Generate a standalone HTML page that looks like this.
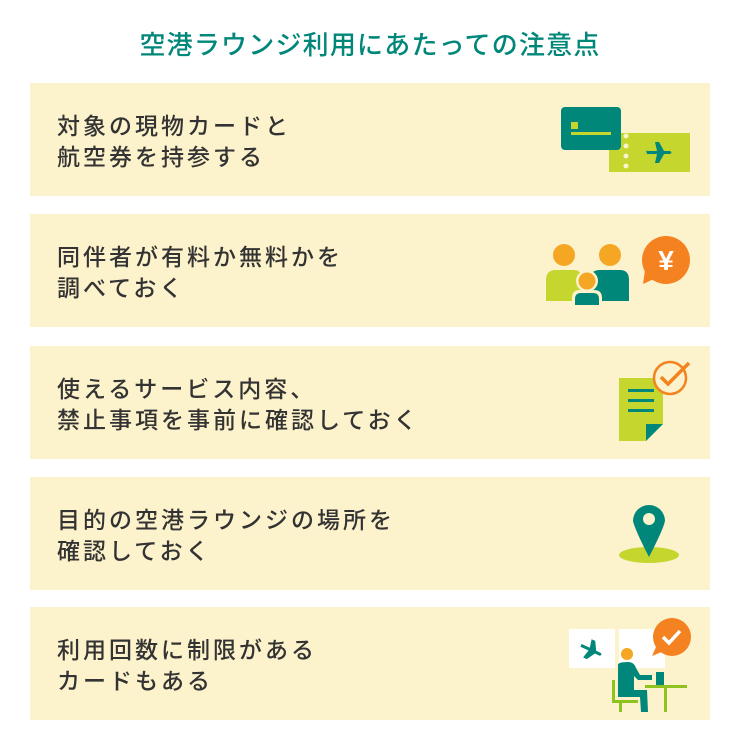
<!DOCTYPE html>
<html><head><meta charset="utf-8"><style>
html,body{margin:0;padding:0;background:#fff;width:740px;height:750px;overflow:hidden}
body{position:relative;font-family:"Liberation Sans","Noto Sans CJK JP",sans-serif}
.t{position:absolute;left:0;width:740px;top:28px;line-height:34px;text-align:center;font-size:26px;color:#00877a;font-weight:500;letter-spacing:1.2px}
.b{position:absolute;left:30px;width:680px;height:113px;background:#fcf2cb}
.b p{position:absolute;left:27px;top:28px;margin:0;font-size:23px;line-height:31px;color:#333;letter-spacing:3px;font-weight:500;white-space:nowrap}
svg{position:absolute;left:0;top:0}
</style></head><body>
<div class="t">空港ラウンジ利用にあたっての注意点</div>
<div class="b" style="top:83px"><p>対象の現物カードと<br>航空券を持参する</p></div>
<div class="b" style="top:214px"><p>同伴者が有料か無料かを<br>調べておく</p></div>
<div class="b" style="top:346px"><p>使えるサービス内容、<br>禁止事項を事前に確認しておく</p></div>
<div class="b" style="top:477px"><p>目的の空港ラウンジの場所を<br>確認しておく</p></div>
<div class="b" style="top:607px"><p>利用回数に制限がある<br>カードもある</p></div>
<svg width="740" height="750">
<!-- ticket -->
<rect x="609" y="133" width="81" height="39" fill="#c5d62e"/>
<g fill="#fcf2cb"><circle cx="626" cy="136" r="2.5"/><circle cx="626" cy="146" r="2.5"/><circle cx="626" cy="156" r="2.5"/><circle cx="626" cy="166" r="2.5"/></g>
<path fill="#00877a" d="M647 151 L657 151 L655 142 L659 142 L664 151 L670 151 Q673 152.5 670 154 L664 154 L659 163 L655 163 L657 154 L647 154 L646 150Z"/>
<rect x="561" y="107" width="60" height="43" rx="4" fill="#00877a"/>
<rect x="571" y="122" width="7" height="7" fill="#c5d62e"/>
<rect x="571" y="132" width="40" height="3" fill="#c5d62e"/>
<!-- people -->
<circle cx="564" cy="255" r="11" fill="#f5a623"/>
<circle cx="610" cy="255" r="11" fill="#f5a623"/>
<path d="M546 301 L546 280 Q546 270 556 270 L574 270 Q582 270 582 280 L582 301Z" fill="#c5d62e"/>
<path d="M590 301 L590 280 Q590 270 600 270 L620 270 Q629 270 629 280 L629 301Z" fill="#00877a"/>
<circle cx="587" cy="281" r="11" fill="#fcf2cb"/>
<circle cx="587" cy="281" r="8.5" fill="#f5a623"/>
<path d="M572 305 L572 298 Q572 290 580 290 L594 290 Q602 290 602 298 L602 305Z" fill="#fcf2cb"/>
<path d="M575 305 L575 299 Q575 293 581 293 L593 293 Q599 293 599 299 L599 305Z" fill="#00877a"/>
<circle cx="666" cy="260" r="24" fill="#f58220"/>
<path d="M645 270 L643 284 L656 278Z" fill="#f58220"/>
<text x="666" y="270" font-size="28" font-weight="bold" fill="#fff" text-anchor="middle" font-family="Liberation Sans,sans-serif">¥</text>
<!-- doc -->
<path d="M619 378 L663 378 L663 424 L646 441 L619 441Z" fill="#c5d62e"/>
<path d="M663 424 L646 441 L646 424Z" fill="#00877a"/>
<g fill="#00877a"><rect x="628" y="389" width="26" height="3"/><rect x="628" y="399" width="26" height="3"/><rect x="628" y="409" width="26" height="3"/></g>
<circle cx="670" cy="378" r="16" fill="#fcf2cb" stroke="#f58220" stroke-width="2.5"/>
<path d="M661 377 L668 384 L689 363" fill="none" stroke="#f58220" stroke-width="3.5"/>
<!-- pin -->
<ellipse cx="649" cy="555" rx="30" ry="8" fill="#c5d62e"/>
<path d="M633 521 A16 16 0 1 1 665 521 Q663 530 649 557 Q635 530 633 521Z" fill="#00877a"/>
<circle cx="649" cy="519" r="6" fill="#fcf2cb"/>
<!-- desk person -->
<rect x="569" y="629" width="46" height="39" fill="#fff"/>
<rect x="619" y="629" width="46" height="39" fill="#fff"/>
<g transform="translate(591,650) rotate(25)"><path fill="#00877a" d="M-11 -1.5 L-2 -1.5 L-4 -10 L0 -10 L5 -1.5 L10 -1.5 Q13 0 10 1.5 L5 1.5 L0 10 L-4 10 L-2 1.5 L-11 1.5Z"/></g>
<circle cx="672" cy="637" r="19" fill="#f58220"/>
<path d="M656 647 L652 656 L664 651Z" fill="#f58220"/>
<path d="M663 637 L669 643 L680 631" fill="none" stroke="#fff" stroke-width="3.5"/>
<circle cx="627" cy="654" r="6" fill="#f5a623"/>
<path d="M618 665 Q618 662 628 662 Q634 662 636 668 L640 675 L652 675 L652 680 L638 680 L634 676 L634 690 L647 690 L648 712 L641 712 L640 697 L618 697Z" fill="#00877a"/>
<rect x="656" y="672" width="8" height="14" fill="#00877a"/>
<g fill="#8dc21f"><rect x="645" y="685" width="42" height="3"/><rect x="664" y="688" width="3" height="24"/><rect x="612" y="680" width="3" height="22"/><rect x="612" y="700" width="26" height="3"/><rect x="619" y="703" width="3" height="9"/></g>
</svg>
</body></html>
